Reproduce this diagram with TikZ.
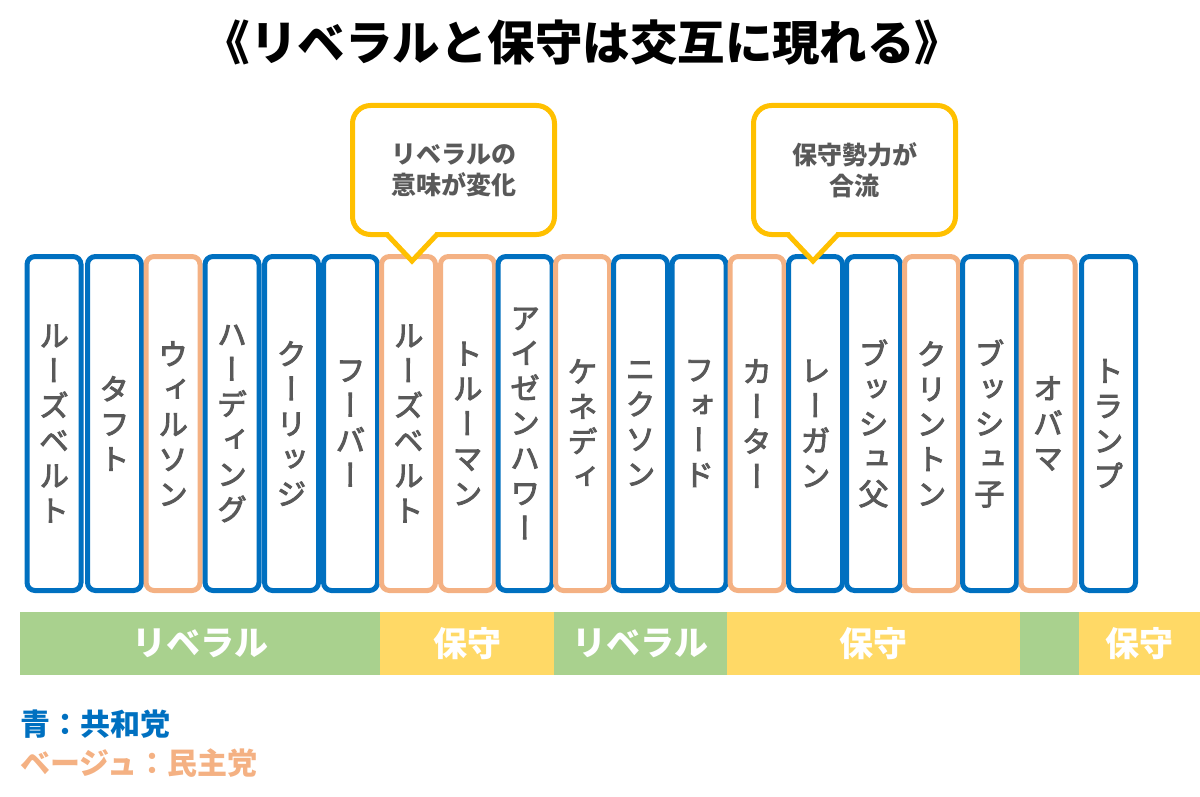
\documentclass[tikz,border=0pt]{standalone}
\usepackage{fontspec}
\newfontfamily\jp{Noto Sans CJK JP}
\newfontfamily\vjp[RawFeature=+vert, FakeBold=3]{Noto Sans CJK JP}
\definecolor{repblue}{RGB}{0,112,192}
\definecolor{dembeige}{RGB}{244,177,131}
\definecolor{callyellow}{RGB}{255,192,0}
\definecolor{bandgreen}{RGB}{169,209,142}
\definecolor{bandyellow}{RGB}{255,217,102}
\definecolor{txtgray}{RGB}{89,89,89}
\begin{document}
\begin{tikzpicture}[x=1pt,y=-1pt,
  col/.style={rectangle, rounded corners=8, line width=5, minimum width=54, minimum height=334,
    inner sep=0, fill=white, text=txtgray, align=center, font=\vjp\fontsize{30}{35}\selectfont},
  rep/.style={col, draw=repblue},
  dem/.style={col, draw=dembeige},
  band/.style={rectangle, inner sep=0, minimum height=63, text=white,
    font=\jp\bfseries\fontsize{34}{34}\selectfont},
  callout/.style={rectangle, rounded corners=18, draw=callyellow, line width=5, fill=white,
    minimum width=202, minimum height=129, inner sep=0, text=txtgray, align=center,
    font=\jp\bfseries\fontsize{25}{31}\selectfont},
  pointer/.style={draw=callyellow, line width=5, line cap=round, line join=miter},
  legendtext/.style={inner sep=0, anchor=west, font=\jp\bfseries\fontsize{30}{30}\selectfont}
]
\useasboundingbox (0,0) rectangle (1200,797);

% title
\node[inner sep=0, font=\jp\bfseries\fontsize{47.5}{48}\selectfont] (title) at (582.5,43) {《リベラルと保守は交互に現れる》};

% columns
\node[rep] (p1) at (54,423.5) {ル\\ー\\ズ\\ベ\\ル\\ト};
\node[rep] (p2) at (114.5,423.5) {タ\\フ\\ト};
\node[dem] (p3) at (173,423.5) {ウ\\ィ\\ル\\ソ\\ン};
\node[rep] (p4) at (232,423.5) {ハ\\ー\\デ\\ィ\\ン\\グ};
\node[rep] (p5) at (291.5,423.5) {ク\\ー\\リ\\ッ\\ジ};
\node[rep] (p6) at (350.5,423.5) {フ\\ー\\バ\\ー};
\node[dem] (p7) at (408.5,423.5) {ル\\ー\\ズ\\ベ\\ル\\ト};
\node[dem] (p8) at (467.5,423.5) {ト\\ル\\ー\\マ\\ン};
\node[rep] (p9) at (525,423.5) {ア\\イ\\ゼ\\ン\\ハ\\ワ\\ー};
\node[dem] (p10) at (582.5,423.5) {ケ\\ネ\\デ\\ィ};
\node[rep] (p11) at (640.5,423.5) {ニ\\ク\\ソ\\ン};
\node[rep] (p12) at (699,423.5) {フ\\ォ\\ー\\ド};
\node[dem] (p13) at (757,423.5) {カ\\ー\\タ\\ー};
\node[rep] (p14) at (815.5,423.5) {レ\\ー\\ガ\\ン};
\node[rep] (p15) at (873.5,423.5) {ブ\\ッ\\シ\\ュ\\父};
\node[dem] (p16) at (931.5,423.5) {ク\\リ\\ン\\ト\\ン};
\node[rep] (p17) at (989.5,423.5) {ブ\\ッ\\シ\\ュ\\子};
\node[dem] (p18) at (1048,423.5) {オ\\バ\\マ};
\node[rep] (p19) at (1108.5,423.5) {ト\\ラ\\ン\\プ};

% callouts
\node[callout] (c1) at (453.5,170) {リベラルの\\意味が変化};
\coordinate (t1) at (412,261);
\fill[white] (389,230) -- (435,230) -- (435,236) -- (t1) -- (389,236) -- cycle;
\draw[pointer] (387,234.5) -- (t1) -- (437,234.5);

\node[callout] (c2) at (854.5,170) {保守勢力が\\合流};
\coordinate (t2) at (813,261);
\fill[white] (790,230) -- (836,230) -- (836,236) -- (t2) -- (790,236) -- cycle;
\draw[pointer] (788,234.5) -- (t2) -- (838,234.5);

% bands
\node[band, fill=bandgreen, minimum width=360] (b1) at (200,643.5) {リベラル};
\node[band, fill=bandyellow, minimum width=174] (b2) at (467,643.5) {保守};
\node[band, fill=bandgreen, minimum width=173] (b3) at (640.5,643.5) {リベラル};
\node[band, fill=bandyellow, minimum width=293] (b4) at (873.5,643.5) {保守};
\node[band, fill=bandgreen, minimum width=59] (b5) at (1049.5,643.5) {};
\node[band, fill=bandyellow, minimum width=121] (b6) at (1139.5,643.5) {保守};

% legend
\node[legendtext, text=repblue] (l1) at (20,724) {青：共和党};
\node[legendtext, text=dembeige] (l2) at (20,763) {ベージュ：民主党};
\end{tikzpicture}
\end{document}
